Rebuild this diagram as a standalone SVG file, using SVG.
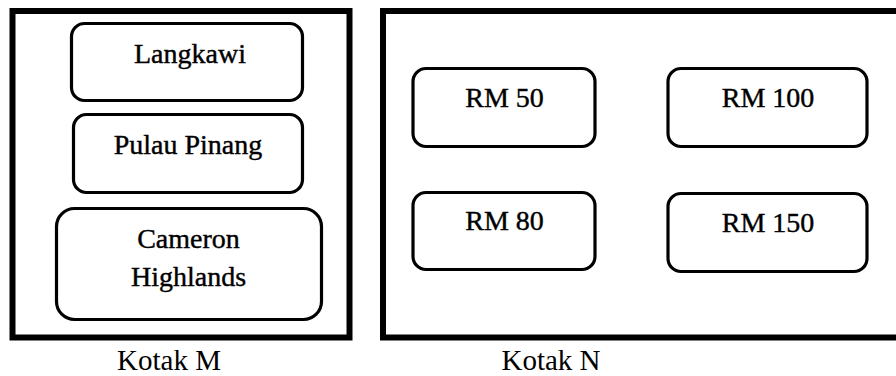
<svg xmlns="http://www.w3.org/2000/svg" width="896" height="376" viewBox="0 0 896 376">
<style>
.outer{fill:none;stroke:#000;stroke-width:6}
.box{fill:#fff;stroke:#000;stroke-width:3.2}
text{font-family:'Liberation Serif','DejaVu Serif',serif;font-size:28px;fill:#000;text-anchor:middle}
.in{stroke:#000;stroke-width:0.4}
.cap{font-size:29px}
</style>
<rect width="896" height="376" fill="#fff"/>
<g id="kotakM">
<rect class="outer" x="12.5" y="11" width="337" height="326.5"/>
<text class="cap" x="169" y="370">Kotak M</text>
</g>
<g id="kotakN">
<rect class="outer" x="383" y="11" width="530" height="326.5"/>
<text class="cap" x="551" y="370">Kotak N</text>
</g>
<g id="langkawi">
<rect class="box" x="71.5" y="23.5" width="231" height="77" rx="13"/>
<text class="in" x="190" y="63">Langkawi</text>
</g>
<g id="pulau-pinang">
<rect class="box" x="73.5" y="114.5" width="229" height="78" rx="13"/>
<text class="in" x="188" y="154">Pulau Pinang</text>
</g>
<g id="cameron">
<rect class="box" x="56.5" y="208.5" width="265" height="111" rx="18"/>
<text class="in" x="188.5" y="248">Cameron</text>
<text class="in" x="188.5" y="286">Highlands</text>
</g>
<g id="rm50">
<rect class="box" x="413" y="68.5" width="182" height="78" rx="13"/>
<text class="in" x="504.5" y="107">RM 50</text>
</g>
<g id="rm100">
<rect class="box" x="668" y="68.5" width="199" height="78" rx="13"/>
<text class="in" x="768" y="107">RM 100</text>
</g>
<g id="rm80">
<rect class="box" x="413" y="192.5" width="182" height="77" rx="13"/>
<text class="in" x="504.5" y="230">RM 80</text>
</g>
<g id="rm150">
<rect class="box" x="668" y="193.5" width="199" height="78" rx="13"/>
<text class="in" x="768" y="231.5">RM 150</text>
</g>
<g id="connectors"/>
</svg>
